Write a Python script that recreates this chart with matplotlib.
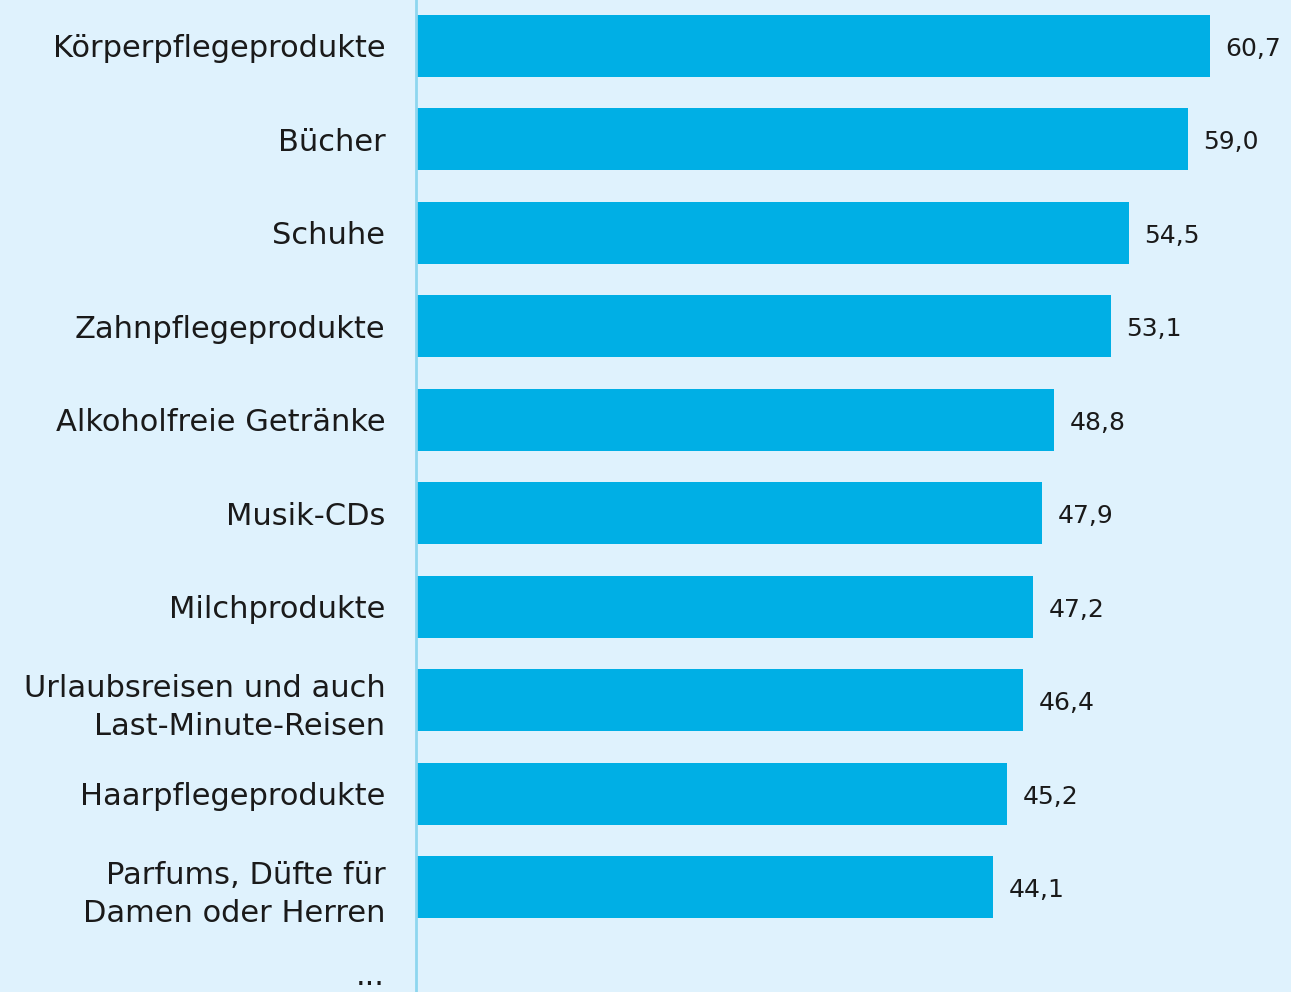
import matplotlib.pyplot as plt

# Data
categories = ['Körperpflegeprodukte', 'Bücher', 'Schuhe', 'Zahnpflegeprodukte',
              'Alkoholfreie Getränke', 'Musik-CDs', 'Milchprodukte',
              'Urlaubsreisen und auch\nLast-Minute-Reisen', 'Haarpflegeprodukte',
              'Parfums, Düfte für\nDamen oder Herren', '...']
values = [60.7, 59.0, 54.5, 53.1, 48.8, 47.9, 47.2, 46.4, 45.2, 44.1, None]

bg = '#dff2fd'
bar_color = '#00afe5'
text_color = '#1a1a1a'

fig = plt.figure(figsize=(12.91, 9.92), dpi=100, facecolor=bg)
ax = fig.add_axes([416 / 1291, 0, 1 - 416 / 1291, 1])
ax.set_facecolor(bg)

pos = list(range(len(categories)))
for i, v in zip(pos, values):
    if v is None:
        continue
    ax.barh(i, v, height=0.66, color=bar_color, zorder=2)
    ax.text(v + 1.2, i + 0.03, f'{v:.1f}'.replace('.', ','), va='center', ha='left',
            fontsize=18, color=text_color)

ax.set_xlim(0, 66.9)
ax.set_ylim(10.12, -0.49)

# tick labels for the real categories, the trailing "..." sits on its own baseline
ax.set_yticks(pos[:-1])
ax.set_yticklabels(categories[:-1], fontsize=22, color=text_color, linespacing=1.4)
ax.tick_params(axis='y', length=0, pad=22)
ax.set_xticks([])
fig.text(385 / 1291, 1 - 985 / 992, categories[-1], ha='right', va='baseline',
         fontsize=22, color=text_color)

for s in ['top', 'right', 'bottom']:
    ax.spines[s].set_visible(False)
ax.spines['left'].set_color('#8ed6ef')
ax.spines['left'].set_linewidth(2)

fig.savefig('out.png', dpi=100, facecolor=bg)
